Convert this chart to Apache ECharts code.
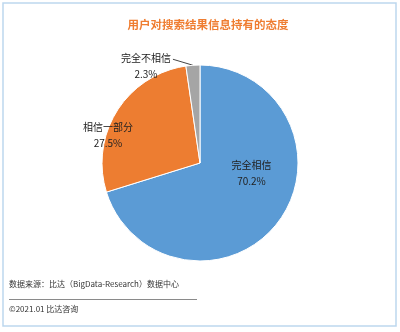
<!DOCTYPE html>
<html><head><meta charset="utf-8">
<script src="https://cdn.jsdelivr.net/npm/echarts@6/dist/echarts.min.js"></script>
<style>html,body{margin:0;padding:0;background:#fff}#c{width:400px;height:332px}</style>
</head><body><div id="c"></div>
<script>
const categories = ['完全相信', '相信一部分', '完全不相信'];
const values = [70.2, 27.5, 2.3];
const colors = ['#5b9bd5', '#ed7d31', '#a5a5a5'];
const titleText = '用户对搜索结果信息持有的态度';
const sourceText = '数据来源：比达（BigData-Research）数据中心';
const copyrightText = '©2021.01 比达咨询';

const FONT = "'Noto Sans CJK SC', 'Microsoft YaHei', sans-serif";
const chart = echarts.init(document.getElementById('c'), null, {renderer: 'canvas'});

const labelPos = [
  {x: 251.5, y: 173.7},
  {x: 108, y: 135.5},
  null
];

chart.setOption({
  animation: false,
  title: {
    text: titleText, left: 203, top: 14, textAlign: 'center',
    textStyle: {color: '#ef7d31', fontSize: 11.5, fontWeight: 'bold', fontFamily: FONT}
  },
  graphic: [
    {type: 'rect', shape: {x: 3, y: 3, width: 393, height: 323},
     style: {fill: 'none', stroke: '#bdd7ee', lineWidth: 1.5}, silent: true},
    {type: 'text', x: 9, y: 284, style: {text: sourceText, fill: '#333', font: '8px ' + FONT, textVerticalAlign: 'middle'}},
    {type: 'line', shape: {x1: 9, y1: 299.5, x2: 197, y2: 299.5}, style: {stroke: '#8a8a8a', lineWidth: 1}},
    {type: 'text', x: 9, y: 309, style: {text: copyrightText, fill: '#333', font: '8px ' + FONT, textVerticalAlign: 'middle'}}
  ],
  series: [{
    type: 'pie',
    center: [200, 163],
    radius: 98,
    startAngle: 90,
    clockwise: true,
    avoidLabelOverlap: false,
    itemStyle: {borderColor: '#fff', borderWidth: 1},
    label: {
      show: true,
      formatter: p => p.name + '\n' + p.value.toFixed(1) + '%',
      color: '#222', fontSize: 10, lineHeight: 16, fontFamily: FONT, align: 'center'
    },
    labelLine: {show: true, length: 5, length2: 10, lineStyle: {color: '#444', width: 1}},
    labelLayout: function (params) {
      const i = params.dataIndex;
      if (labelPos[i]) {
        return {x: labelPos[i].x, y: labelPos[i].y, align: 'center', verticalAlign: 'middle'};
      }
      const a = params.labelLinePoints ? params.labelLinePoints[0] : [193, 65];
      const end = [a[0] - 20, a[1] - 6];
      return {
        x: a[0] - 47, y: a[1] + 0.5, align: 'center', verticalAlign: 'middle',
        labelLinePoints: [a, end, end]
      };
    },
    data: categories.map((n, i) => ({
      name: n, value: values[i],
      itemStyle: {color: colors[i]},
      label: {position: i === 2 ? 'outside' : 'inside'},
      labelLine: {show: i === 2}
    }))
  }]
});
</script></body></html>
